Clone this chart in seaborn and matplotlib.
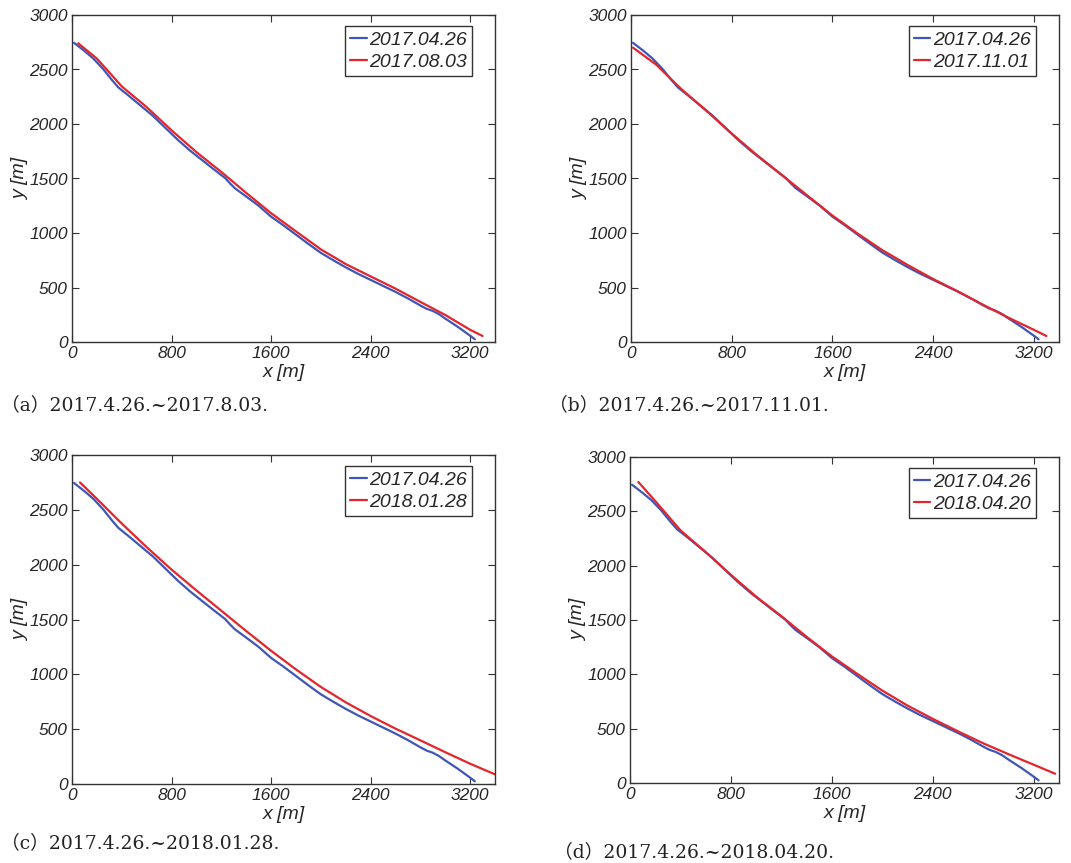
import matplotlib
matplotlib.use("Agg")
import matplotlib.pyplot as plt
import seaborn as sns
import pandas as pd

# ---- data ----
blue_label = "2017.04.26"
blue_x = [16, 100, 172, 250, 320, 373, 450, 550, 650, 750, 850, 950, 1050, 1150, 1230, 1270,
          1310, 1400, 1500, 1600, 1700, 1800, 1900, 2000, 2100, 2200, 2300, 2400, 2500, 2600,
          2700, 2800, 2850, 2900, 2950, 3000, 3100, 3200, 3238]
blue_y = [2745, 2670, 2600, 2505, 2405, 2335, 2265, 2170, 2075, 1965, 1855, 1755, 1665, 1575, 1505, 1455,
          1410, 1335, 1250, 1150, 1070, 985, 900, 818, 750, 685, 625, 570, 515, 460,
          400, 335, 305, 285, 255, 215, 140, 58, 25]

red_a_label = "2017.08.03"
red_a_x = [50, 200, 400, 600, 800, 1000, 1200, 1400, 1600, 1800, 2000, 2200, 2400, 2600, 2800, 3000, 3200, 3300]
red_a_y = [2740, 2600, 2345, 2155, 1942, 1742, 1560, 1368, 1182, 1015, 850, 715, 602, 490, 368, 248, 112, 55]

red_b_label = "2017.11.01"
red_b_x = [16, 200, 400, 600, 800, 1000, 1200, 1400, 1600, 1800, 2000, 2200, 2400, 2600, 2800, 3000, 3200, 3300]
red_b_y = [2700, 2545, 2320, 2120, 1912, 1715, 1530, 1345, 1160, 995, 840, 705, 578, 462, 340, 222, 112, 55]

red_c_label = "2018.01.28"
red_c_x = [64, 200, 400, 600, 800, 1000, 1200, 1400, 1600, 1800, 2000, 2200, 2400, 2600, 2800, 3000, 3200, 3400]
red_c_y = [2750, 2600, 2375, 2160, 1955, 1765, 1580, 1395, 1215, 1045, 885, 745, 620, 505, 398, 290, 185, 88]

red_d_label = "2018.04.20"
red_d_x = [66, 200, 400, 600, 800, 1000, 1200, 1400, 1600, 1800, 2000, 2200, 2400, 2600, 2800, 3000, 3200, 3370]
red_d_y = [2770, 2595, 2325, 2125, 1915, 1715, 1535, 1345, 1165, 1005, 850, 712, 590, 475, 365, 265, 168, 85]

captions = ["（a）2017.4.26.~2017.8.03.",
            "（b）2017.4.26.~2017.11.01.",
            "（c）2017.4.26.~2018.01.28.",
            "（d）2017.4.26.~2018.04.20."]

x_ticks = [0, 800, 1600, 2400, 3200]
y_ticks = [0, 500, 1000, 1500, 2000, 2500, 3000]

BLUE = "#3f56b8"
RED = "#e2262b"

sns.set_style("ticks")
plt.rcParams["font.family"] = ["Liberation Sans", "DejaVu Sans"]

W, H = 1071, 863
fig = plt.figure(figsize=(W / 100, H / 100), dpi=100)

# axes boxes in pixels: left, right, top, bottom
boxes = [(72, 495, 15, 342), (631, 1059, 15, 342),
         (72, 495, 455, 784), (630, 1059, 457, 783)]
reds = [(red_a_label, red_a_x, red_a_y), (red_b_label, red_b_x, red_b_y),
        (red_c_label, red_c_x, red_c_y), (red_d_label, red_d_x, red_d_y)]
cap_pos = [(1, 405), (549, 405), (1, 843), (554, 852)]

for i in range(4):
    l, r, t, b = boxes[i]
    ax = fig.add_axes([l / W, (H - b) / H, (r - l) / W, (b - t) / H])
    lab, rx, ry = reds[i]
    df = pd.concat([
        pd.DataFrame({"x": blue_x, "y": blue_y, "date": blue_label}),
        pd.DataFrame({"x": rx, "y": ry, "date": lab}),
    ], ignore_index=True)
    sns.lineplot(data=df, x="x", y="y", hue="date", sort=False, estimator=None,
                 palette={blue_label: BLUE, lab: RED}, linewidth=1.6, ax=ax)
    ax.set_xlim(0, 3400)
    ax.set_ylim(0, 3000)
    ax.set_xticks(x_ticks)
    ax.set_yticks(y_ticks)
    ax.tick_params(direction="in", top=True, right=True, length=5, width=0.8,
                   labelsize=12.5, color="#333333", pad=3)
    for lbl in ax.get_xticklabels() + ax.get_yticklabels():
        lbl.set_fontstyle("italic")
    for sp in ax.spines.values():
        sp.set_color("#333333")
        sp.set_linewidth(1.0)
    ax.set_xlabel("x [m]", fontsize=14, fontstyle="italic", labelpad=2)
    ax.set_ylabel("y [m]", fontsize=14, fontstyle="italic", labelpad=0)
    leg = ax.legend(loc="upper right", bbox_to_anchor=(0.946, 0.966),
                    borderaxespad=0, fontsize=14, handlelength=0.85,
                    handletextpad=0.15, borderpad=0.25, labelspacing=0.25,
                    frameon=True, fancybox=False, edgecolor="#333333",
                    framealpha=1)
    leg.get_frame().set_linewidth(1.0)
    for txt in leg.get_texts():
        txt.set_fontstyle("italic")
    for ln in leg.get_lines():
        ln.set_linewidth(1.6)
    cx, cy = cap_pos[i]
    fig.text(cx / W, 1 - cy / H, captions[i], ha="left", va="center",
             fontsize=13.5, family=["DejaVu Serif", "Noto Sans CJK SC"],
             color="#222222")

fig.savefig("out.png", dpi=100)
